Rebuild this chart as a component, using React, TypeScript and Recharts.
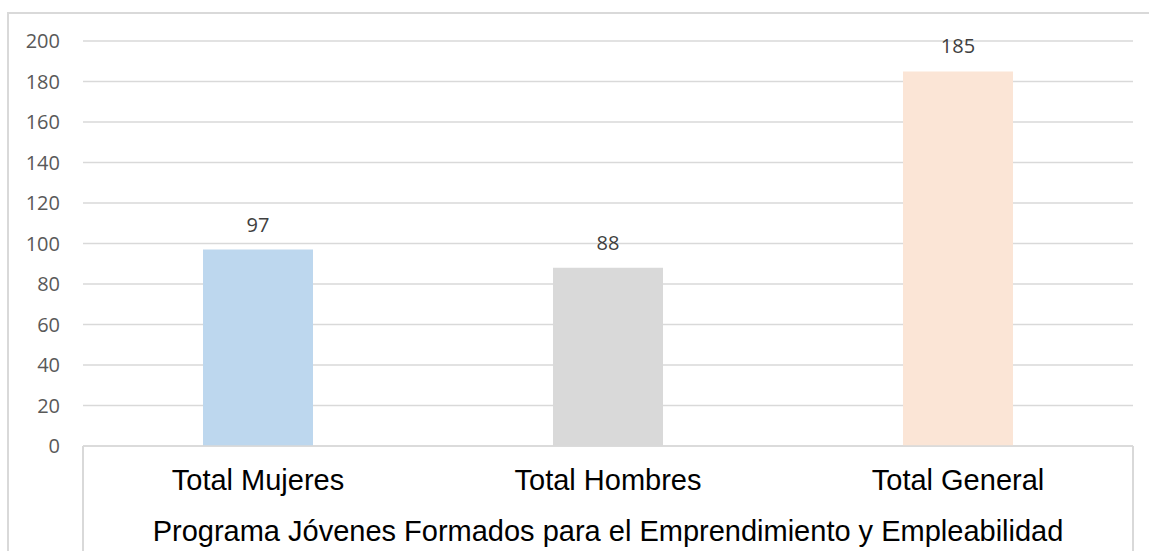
import { BarChart, Bar, XAxis, YAxis, CartesianGrid, Cell, LabelList, Label } from 'recharts';

const categories = ['Total Mujeres', 'Total Hombres', 'Total General'];
const values = [97, 88, 185];
const yTicks = [0, 20, 40, 60, 80, 100, 120, 140, 160, 180, 200];
const title = 'Programa Jóvenes Formados para el Emprendimiento y Empleabilidad';

const BAR_COLORS = ['#BDD7EE', '#D9D9D9', '#FBE5D6'];
const GRID = '#D9D9D9';

const W = 1149;
const H = 559;
const M = { top: 41, right: 16, left: 23, bottom: 0 };
const Y_W = 60;
const X_H = 113;

const data = categories.map((name, i) => ({ name, value: values[i] }));

const CatTick = ({ x, y, payload }: any) => (
  <text
    x={x}
    y={y + 44}
    textAnchor="middle"
    fill="#000"
    fontSize={29}
    fontFamily="'Liberation Sans', Arial, sans-serif"
  >
    {payload.value}
  </text>
);

export default function App() {
  const plotLeft = M.left + Y_W;
  const plotRight = W - M.right;
  const plotBottom = H - X_H - M.bottom;
  const line = { position: 'absolute' as const, background: GRID, pointerEvents: 'none' as const };
  return (
    <div style={{ position: 'absolute', left: 0, top: 0, width: W, height: H, background: '#fff', overflow: 'hidden' }}>
      <BarChart width={W} height={H} data={data} margin={M} barSize={110}>
        <CartesianGrid vertical={false} stroke={GRID} strokeWidth={1.5} />
        <YAxis
          width={Y_W}
          domain={[0, 200]}
          ticks={yTicks}
          axisLine={false}
          tickLine={false}
          tickSize={0}
          tickMargin={23}
          tick={{ fill: '#595959', fontSize: 20, fontFamily: "'Open Sans', sans-serif" }}
        />
        <XAxis
          dataKey="name"
          height={X_H}
          interval={0}
          tickLine={false}
          tickSize={0}
          tickMargin={0}
          axisLine={{ stroke: GRID, strokeWidth: 1.5 }}
          tick={<CatTick />}
        >
          <Label
            value={title}
            position="insideBottom"
            offset={18}
            fill="#000"
            fontSize={29}
            fontFamily="'Liberation Sans', Arial, sans-serif"
          />
        </XAxis>
        <Bar dataKey="value" isAnimationActive={false}>
          {data.map((d, i) => (
            <Cell key={d.name} fill={BAR_COLORS[i]} />
          ))}
          <LabelList
            dataKey="value"
            position="top"
            offset={18}
            fill="#404040"
            fontSize={20}
            fontFamily="'Open Sans', sans-serif"
          />
        </Bar>
      </BarChart>
      {/* outer chart frame (top + left, rest cropped) */}
      <div style={{ ...line, left: 7, top: 12, width: W, height: 1.5 }} />
      <div style={{ ...line, left: 7, top: 12, width: 1.5, height: 539 }} />
      {/* category box sides */}
      <div style={{ ...line, left: plotLeft - 0.75, top: plotBottom, width: 1.5, height: 105 }} />
      <div style={{ ...line, left: plotRight - 0.75, top: plotBottom, width: 1.5, height: 105 }} />
    </div>
  );
}
